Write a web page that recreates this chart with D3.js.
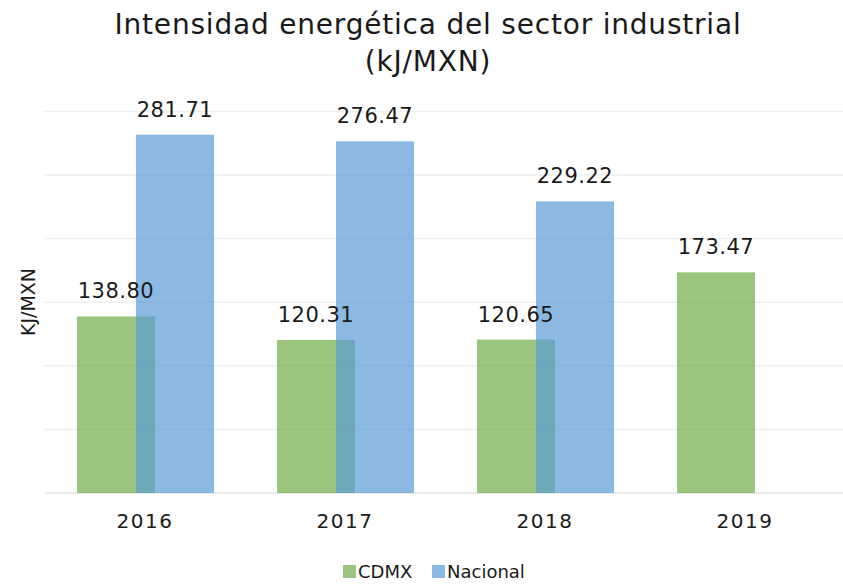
<!DOCTYPE html>
<html>
<head>
<meta charset="utf-8">
<script src="https://cdn.jsdelivr.net/npm/d3@7"></script>
<style>
  html, body { margin: 0; padding: 0; background: #fff; }
  svg { display: block; }
</style>
</head>
<body>
<svg id="chart" width="843" height="584"></svg>
<script>
const years = ["2016", "2017", "2018", "2019"];
const cdmx = [138.80, 120.31, 120.65, 173.47];
const nacional = [281.71, 276.47, 229.22, null];
const yTicks = [0, 50, 100, 150, 200, 250, 300];
const seriesNames = ["CDMX", "Nacional"];
const seriesColors = ["#70AD47", "#5B9BD5"];
const titleLines = ["Intensidad energética del sector industrial", "(kJ/MXN)"];
const yLabel = "KJ/MXN";

const svg = d3.select("#chart");
const plot = { left: 45, right: 845, top: 111.4, bottom: 493 };

const x = d3.scaleBand().domain(years).range([plot.left, plot.right]).padding(0);
const y = d3.scaleLinear().domain([0, 300]).range([plot.bottom, plot.top]);

const barW = 78;
const offsets = [-68, -9];
const font = "'DejaVu Sans', sans-serif";

// gridlines
svg.append("g")
  .selectAll("line")
  .data(yTicks)
  .join("line")
  .attr("x1", plot.left)
  .attr("x2", plot.right)
  .attr("y1", d => y(d))
  .attr("y2", d => y(d))
  .attr("stroke", d => d === 0 ? "#e4e4e4" : "#eeeeee")
  .attr("stroke-width", 1.5);

// bars
const series = [cdmx, nacional];
series.forEach((vals, si) => {
  const data = years.map((yr, i) => ({ yr, v: vals[i] })).filter(d => d.v != null);
  svg.append("g")
    .selectAll("rect")
    .data(data)
    .join("rect")
    .attr("x", d => x(d.yr) + x.bandwidth() / 2 + offsets[si])
    .attr("y", d => y(d.v))
    .attr("width", barW)
    .attr("height", d => y(0) - y(d.v))
    .attr("fill", seriesColors[si])
    .attr("fill-opacity", 0.7);
});

// value labels
series.forEach((vals, si) => {
  const data = years.map((yr, i) => ({ yr, v: vals[i] })).filter(d => d.v != null);
  svg.append("g")
    .selectAll("text")
    .data(data)
    .join("text")
    .attr("x", d => x(d.yr) + x.bandwidth() / 2 + offsets[si] + barW / 2)
    .attr("y", d => y(d.v) - 18)
    .attr("text-anchor", "middle")
    .attr("font-family", font)
    .attr("font-size", 21)
    .attr("letter-spacing", 0.5)
    .attr("fill", "#1a1a1a")
    .text(d => d.v.toFixed(2));
});

// x axis labels
const xAxis = d3.axisBottom(x).tickSize(0).tickPadding(0);
const gx = svg.append("g")
  .attr("transform", `translate(0, ${plot.bottom})`)
  .call(xAxis);
gx.select(".domain").remove();
gx.selectAll("text")
  .attr("dy", 0)
  .attr("y", 35)
  .attr("font-family", font)
  .attr("font-size", 20)
  .attr("letter-spacing", 1.5)
  .attr("fill", "#1a1a1a");

// y label
svg.append("text")
  .attr("transform", "translate(35, 302) rotate(-90)")
  .attr("text-anchor", "middle")
  .attr("font-family", font)
  .attr("font-size", 19)
  .attr("fill", "#1a1a1a")
  .text(yLabel);

// title
svg.append("text")
  .attr("text-anchor", "middle")
  .attr("font-family", font)
  .attr("font-size", 28)
  .attr("letter-spacing", 0.8)
  .attr("fill", "#1a1a1a")
  .selectAll("tspan")
  .data(titleLines)
  .join("tspan")
  .attr("x", 428)
  .attr("y", (d, i) => 34 + i * 37)
  .text(d => d);

// legend
const legendPos = [343, 432];
const lg = svg.append("g");
seriesNames.forEach((name, i) => {
  lg.append("rect")
    .attr("x", legendPos[i])
    .attr("y", 565)
    .attr("width", 13)
    .attr("height", 13)
    .attr("fill", seriesColors[i])
    .attr("fill-opacity", 0.7);
  lg.append("text")
    .attr("x", legendPos[i] + 15)
    .attr("y", 578)
    .attr("font-family", font)
    .attr("font-size", 18)
    .attr("fill", "#1a1a1a")
    .text(name);
});
</script>
</body>
</html>
